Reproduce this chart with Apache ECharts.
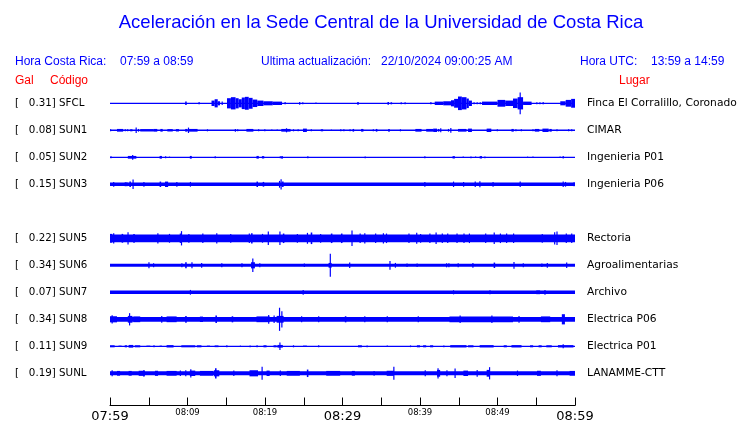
<!DOCTYPE html>
<html><head><meta charset="utf-8">
<script src="https://cdn.jsdelivr.net/npm/echarts@6/dist/echarts.min.js"></script>
<style>html,body{margin:0;padding:0;background:#fff}#c{width:740px;height:423px}</style>
</head><body><div id="c"></div>
<script>
// ---------------- DATA ----------------
const stations = ['SFCL','SUN1','SUN2','SUN3','SUN4','SUN5','SUN6','SUN7','SUN8','SUN9','SUNL'];
const peakGal  = ['0.31','0.08','0.05','0.15',null,'0.22','0.34','0.07','0.34','0.11','0.19'];
const places   = ['Finca El Corralillo, Coronado','CIMAR','Ingenieria P01','Ingenieria P06','',
                  'Rectoria','Agroalimentarias','Archivo','Electrica P06','Electrica P01','LANAMME-CTT'];
const timeTicks  = [0,10,20,30,40,50,60];
const timeLabels = ['07:59','08:09','08:19','08:29','08:39','08:49','08:59'];
const noiseLevels = [0.01,0.02,0.01,0.05,null,0.115,0.045,0.05,0.07,0.01,0.06];
const evSFCL = [[9.7,9.9,0.05],[11.4,11.6,0.03],[13.1,13.5,0.08],[13.5,13.9,0.12],[13.9,14.2,0.06],[14.4,14.5,0.05],
  [15.1,15.6,0.15],[15.6,16.2,0.18],[16.2,16.6,0.15],[16.6,17.0,0.12],[17.0,17.4,0.17],[17.4,17.9,0.19],[17.9,18.4,0.16],
  [18.4,19.0,0.11],[19.0,19.8,0.08],[19.8,21.0,0.06],[21.0,22.2,0.05],[22.5,22.7,0.03],[24.4,24.5,0.04],[24.8,24.9,0.03],
  [26.5,26.6,0.02],[31.9,32.1,0.04],[35.8,36.0,0.04],[36.2,36.4,0.03],[37.5,37.6,0.03],[38.0,38.1,0.03],[41.3,41.5,0.03],
  [41.9,43.0,0.05],[43.0,44.0,0.06],[44.0,44.4,0.09],[44.4,44.9,0.13],[44.9,45.4,0.2],[45.4,46.0,0.18],[46.0,46.3,0.14],
  [46.3,46.7,0.08],[46.9,47.0,0.03],[47.3,47.4,0.03],[47.7,47.8,0.03],[48.0,50.0,0.05],[50.0,51.0,0.1],[51.0,52.0,0.08],
  [52.0,52.6,0.14],[52.6,53.3,0.18],[52.85,52.95,0.32],[53.3,54.4,0.05],[55.0,55.1,0.03],[55.4,55.5,0.03],[55.8,56.0,0.03],
  [58.1,58.8,0.06],[58.8,59.5,0.1],[59.5,60,0.13]];
const evSUN1 = [[0.0,0.1,0.03],[0.9,1.7,0.04],[1.9,2.0,0.03],[2.2,2.3,0.03],[2.6,2.9,0.03],[3.3,3.4,0.08],[3.6,3.7,0.04],
  [3.9,5.6,0.035],[5.6,6.1,0.04],[6.5,6.8,0.04],[7.4,8.1,0.035],[8.5,8.9,0.035],[9.7,10.0,0.04],[10.05,10.15,0.08],
  [10.2,11.3,0.04],[12.5,12.6,0.03],[16.1,16.2,0.04],[16.4,16.5,0.03],[17.6,18.5,0.04],[19.1,19.2,0.03],[19.9,20.0,0.03],
  [20.8,20.9,0.02],[21.5,21.6,0.02],[22.1,23.3,0.04],[22.7,22.8,0.06],[23.6,23.7,0.03],[24.2,24.3,0.03],[24.9,25.4,0.05],
  [25.9,26.0,0.03],[27.2,27.5,0.03],[28.5,28.6,0.02],[29.7,29.8,0.03],[30.1,30.2,0.03],[30.9,31.0,0.03],[31.3,31.5,0.04],
  [32.4,32.7,0.04],[33.9,34.0,0.03],[34.3,34.5,0.04],[35.9,36.1,0.04],[37.4,37.5,0.03],[39.4,40.2,0.04],[40.8,41.7,0.04],
  [41.7,42.2,0.05],[42.3,42.5,0.04],[42.6,42.7,0.06],[43.6,43.7,0.04],[43.9,44.0,0.07],[44.9,46.0,0.04],[46.2,46.7,0.05],
  [48.6,49.2,0.05],[49.9,50.0,0.03],[51.8,52.1,0.04],[52.3,52.4,0.03],[53.0,53.1,0.03],[54.5,54.6,0.03],[54.8,55.4,0.04],
  [55.8,56.6,0.05],[56.7,57.0,0.04],[57.6,57.7,0.03],[59.1,59.2,0.03],[59.5,59.6,0.03]];
const evSUN2 = [[0.05,0.15,0.03],[2.3,3.4,0.04],[2.85,2.95,0.07],[6.4,6.7,0.04],[7.1,7.2,0.03],[7.6,7.7,0.02],
  [10.3,10.55,0.04],[13.5,13.6,0.03],[18.9,19.2,0.04],[19.6,19.9,0.035],[21.9,22.0,0.03],[22.1,22.3,0.04],[25.45,25.55,0.03],
  [32.85,32.95,0.025],[40.55,40.65,0.03],[44.2,44.5,0.035],[45.5,45.6,0.02],[46.5,46.6,0.025],[47.1,47.2,0.02],
  [47.7,48.0,0.035],[48.3,48.4,0.025],[53.8,53.9,0.02],[54.5,54.6,0.02],[58.0,58.1,0.02],[58.4,58.55,0.035]];
const evSUN3 = [[0.4,0.5,0.07],[1.9,2.0,0.06],[2.1,2.2,0.06],[2.5,2.7,0.08],[2.9,3.0,0.14],[4.3,4.4,0.07],[6.4,6.6,0.08],
  [7.1,7.5,0.08],[8.55,8.65,0.07],[10.3,10.4,0.07],[18.9,19.1,0.08],[19.7,19.9,0.07],[21.8,21.95,0.1],[22.0,22.15,0.15],
  [22.2,22.4,0.08],[40.55,40.65,0.07],[44.25,44.35,0.08],[45.55,45.65,0.07],[47.05,47.2,0.08],[47.65,47.75,0.09],
  [49.35,49.45,0.07],[52.85,52.95,0.08],[58.4,58.55,0.08],[58.7,58.8,0.07],[59.8,59.9,0.06]];
const evSUN4 = [];
const evSUN5 = [[0.0,0.3,0.13],[0.4,0.5,0.15],[1.5,1.7,0.13],[2.25,2.35,0.18],[3.0,3.2,0.13],[6.1,6.2,0.15],[7.6,7.7,0.13],
  [9.0,9.1,0.14],[9.15,9.25,0.21],[10.1,10.2,0.13],[11.9,12.0,0.14],[13.7,13.8,0.15],[15.5,15.6,0.13],[17.9,18.0,0.14],
  [18.2,18.4,0.15],[19.6,19.7,0.13],[20.35,20.45,0.2],[21.85,21.95,0.2],[22.3,22.5,0.14],[24.1,24.2,0.13],[25.4,25.5,0.16],
  [25.9,26.1,0.17],[27.1,27.2,0.13],[28.5,28.7,0.14],[29.8,30.0,0.14],[31.15,31.3,0.23],[32.2,32.3,0.14],[32.8,32.9,0.15],
  [34.2,34.3,0.14],[35.2,35.3,0.15],[35.6,35.7,0.14],[38.5,38.6,0.14],[39.5,39.6,0.16],[40.0,40.1,0.13],[41.2,41.3,0.14],
  [42.0,42.1,0.17],[42.8,42.9,0.14],[43.5,43.6,0.14],[44.7,44.8,0.14],[45.6,45.7,0.14],[46.3,46.4,0.14],[48.4,48.5,0.14],
  [49.5,49.6,0.17],[50.3,50.4,0.14],[51.1,51.2,0.14],[52.0,52.1,0.14],[55.7,55.8,0.13],[57.3,57.4,0.18],[57.6,57.7,0.2],
  [58.8,58.9,0.14],[59.5,59.6,0.14]];
const evSUN6 = [[4.95,5.05,0.09],[5.55,5.65,0.06],[9.2,9.3,0.06],[9.7,9.9,0.09],[10.5,10.6,0.09],[11.75,11.85,0.07],
  [14.35,14.45,0.06],[16.95,17.05,0.06],[18.2,18.7,0.09],[18.35,18.45,0.2],[19.25,19.35,0.06],[25.0,25.1,0.05],
  [28.2,28.6,0.07],[28.35,28.45,0.34],[30.85,30.95,0.08],[36.05,36.15,0.13],[36.75,36.9,0.07],[38.25,38.35,0.05],
  [39.55,39.65,0.05],[43.35,43.45,0.06],[43.65,43.75,0.06],[44.85,44.95,0.06],[46.75,46.85,0.07],[49.5,49.7,0.08],
  [52.05,52.2,0.1],[53.25,53.35,0.06],[55.65,55.75,0.05],[56.35,56.5,0.07],[58.85,58.95,0.08]];
const evSUN7 = [[10.3,10.4,0.07],[24.85,24.95,0.07],[44.25,44.35,0.06],[48.95,49.05,0.06],[55.0,55.5,0.055],[56.05,56.15,0.07]];
const evSUN8 = [[0,0.9,0.09],[0.2,0.3,0.12],[2.3,2.9,0.1],[2.45,2.55,0.18],[3.0,3.9,0.085],[6.6,6.7,0.1],[7.3,8.6,0.085],
  [9.7,9.9,0.1],[11.6,12.0,0.08],[13.6,13.8,0.11],[15.7,15.9,0.09],[18.9,20.6,0.085],[20.4,20.5,0.13],[21.1,21.2,0.11],
  [21.5,22.4,0.1],[21.8,21.9,0.34],[22.1,22.2,0.24],[24.65,24.75,0.09],[26.85,26.95,0.09],[30.3,30.5,0.09],
  [32.8,32.9,0.09],[35.7,35.8,0.09],[39.7,39.8,0.09],[43.8,52,0.085],[45.1,45.2,0.11],[49.2,49.3,0.11],[52.7,52.8,0.1],
  [55.6,56.8,0.085],[58.3,58.7,0.15]];
const evSUN9 = [[0,0.6,0.03],[1.1,1.5,0.02],[1.9,2.2,0.03],[2.4,3.0,0.04],[3.2,3.9,0.03],[4.7,5.2,0.02],[5.6,5.7,0.03],
  [6.4,6.7,0.02],[7.3,8.2,0.035],[9.2,11.0,0.03],[11.2,11.8,0.03],[12.5,12.9,0.02],[13.5,14.0,0.025],[15.0,15.1,0.03],
  [16.75,16.85,0.02],[18.0,18.1,0.025],[18.9,19.0,0.03],[19.8,20.2,0.03],[21.1,21.5,0.03],[21.6,22.3,0.04],
  [21.85,21.95,0.11],[23.6,23.7,0.03],[24.9,25.4,0.02],[26.85,26.95,0.03],[32.0,32.5,0.03],[33.1,33.2,0.025],
  [35.7,35.8,0.02],[38.7,38.8,0.025],[39.6,40.0,0.03],[40.4,40.8,0.03],[41.3,41.7,0.03],[43.0,43.1,0.025],
  [43.9,46.0,0.035],[46.2,46.9,0.03],[47.7,49.5,0.035],[50.8,51.2,0.03],[51.8,53.1,0.035],[54.2,54.6,0.03],
  [55.3,55.7,0.03],[56.3,57.0,0.03],[57.8,59.8,0.035],[58.4,58.5,0.06]];
const evSUNL = [[0.2,0.3,0.09],[0.9,1.3,0.07],[2.4,2.8,0.07],[3.7,4.5,0.075],[4.3,4.4,0.1],[5.8,6.2,0.075],[7.3,8.6,0.07],
  [9.0,9.1,0.08],[9.7,9.8,0.09],[10.3,11.0,0.08],[10.35,10.45,0.12],[11.6,13.3,0.07],[13.4,14.1,0.09],[13.55,13.75,0.15],
  [15.9,16.0,0.08],[18.0,19.1,0.09],[19.55,19.65,0.19],[20.2,20.6,0.08],[21.9,22.0,0.08],[22.8,24.5,0.07],[25.4,25.6,0.11],
  [27.9,29.7,0.07],[31.2,31.6,0.07],[34.0,34.1,0.07],[35.7,36.6,0.075],[36.55,36.65,0.19],[40.6,40.7,0.09],[42.2,42.6,0.1],
  [42.25,42.35,0.15],[43.4,43.5,0.09],[44.45,44.55,0.14],[45.6,46.2,0.08],[47.3,47.4,0.1],[48.6,49.0,0.1],
  [48.9,49.0,0.18],[52.5,52.6,0.08],[55.1,55.6,0.075],[57.6,57.7,0.09],[59.3,60,0.07]];
const eventLists = [evSFCL,evSUN1,evSUN2,evSUN3,evSUN4,evSUN5,evSUN6,evSUN7,evSUN8,evSUN9,evSUNL];

// ---------------- STYLE ----------------
const BLUE = '#0000ff';
const ROW_PX = 27.0;             // vertical spacing between traces
const GAIN = 34 / ROW_PX;        // trace-spacing units per Gal
const Y_MIN = -1, Y_MAX = 11.3;
const topPx = 103.3 - ROW_PX;                 // value -1
const botPx = topPx + (Y_MAX - Y_MIN) * ROW_PX; // value Y_MAX

const rows = [];
noiseLevels.forEach((n, k) => { if (n !== null) rows.push([0, 60, n, k]); });
eventLists.forEach((list, k) => list.forEach(e => rows.push([e[0], e[1], e[2], k])));

function renderItem(params, api) {
  const t0 = api.value(0), t1 = api.value(1), amp = api.value(2), k = api.value(3);
  const p0 = api.coord([t0, k]);
  const p1 = api.coord([t1, k]);
  const pa = api.coord([t0, k - amp * GAIN]);
  const h = Math.max(Math.abs(p0[1] - pa[1]), 0.6);
  const w = Math.max(p1[0] - p0[0], 1.2);
  return { type: 'rect', shape: { x: p0[0], y: p0[1] - h, width: w, height: 2 * h },
           style: { fill: BLUE } };
}

const chart = echarts.init(document.getElementById('c'), null, { renderer: 'canvas' });
const hdr = { fontFamily: 'Liberation Sans, Arial, sans-serif', fontSize: 12, fill: BLUE };
const red = { fontFamily: 'Liberation Sans, Arial, sans-serif', fontSize: 12, fill: '#ff0000' };
function txt(x, y, text, st, align) {
  return { type: 'text', x: x, y: y, style: Object.assign({ text: text, align: align || 'left', verticalAlign: 'middle' }, st) };
}
const rowIdx = v => { const k = Math.round(v); return Math.abs(v - k) < 1e-6 && k >= 0 && k < stations.length ? k : -1; };

chart.setOption({
  animation: false,
  backgroundColor: '#fff',
  grid: [
    { left: 110, right: 165, top: topPx, bottom: 423 - botPx, containLabel: false },
    { left: 110, right: 165, top: 300, bottom: 14.5, containLabel: false }
  ],
  xAxis: [
    { gridIndex: 0, type: 'value', min: 0, max: 60, show: false },
    { gridIndex: 1, type: 'value', min: 0, max: 60, interval: 5, position: 'bottom',
      axisLine: { onZero: false, lineStyle: { color: '#000', width: 1 } },
      axisTick: { inside: true, length: 8, lineStyle: { color: '#000' } },
      splitLine: { show: false },
      axisLabel: {
        margin: 3, hideOverlap: false, showMinLabel: true, showMaxLabel: true,
        formatter: v => {
          const i = timeTicks.indexOf(v);
          if (i < 0) return '';
          return v % 30 === 0 ? '{b|' + timeLabels[i] + '}' : '{s|' + timeLabels[i] + '}';
        },
        rich: {
          b: { fontFamily: 'DejaVu Sans', fontSize: 13, color: '#000', lineHeight: 16 },
          s: { fontFamily: 'DejaVu Sans', fontSize: 8.5, color: '#000', lineHeight: 8.5 }
        }
      } }
  ],
  yAxis: [
    { gridIndex: 0, type: 'value', inverse: true, min: Y_MIN, max: Y_MAX, interval: 1, position: 'left',
      axisLine: { show: false, onZero: false }, axisTick: { show: false }, splitLine: { show: false },
      axisLabel: { align: 'left', margin: 95, color: '#000', fontFamily: 'DejaVu Sans', fontSize: 10.3,
        showMinLabel: false, showMaxLabel: false, padding: [2, 0, 0, 0],
        formatter: v => { const k = rowIdx(v); return k >= 0 && peakGal[k] ? '[   ' + peakGal[k] + '] ' + stations[k] : ''; } } },
    { gridIndex: 0, type: 'value', inverse: true, min: Y_MIN, max: Y_MAX, interval: 1, position: 'right',
      axisLine: { show: false, onZero: false }, axisTick: { show: false }, splitLine: { show: false },
      axisLabel: { align: 'left', margin: 12, color: '#000', fontFamily: 'DejaVu Sans', fontSize: 10.7,
        showMinLabel: false, showMaxLabel: false, padding: [2, 0, 0, 0],
        formatter: v => { const k = rowIdx(v); return k >= 0 ? places[k] : ''; } } },
    { gridIndex: 1, type: 'value', min: 0, max: 1, show: false }
  ],
  series: [{
    type: 'custom', xAxisIndex: 0, yAxisIndex: 0, renderItem: renderItem, data: rows,
    encode: { x: [0, 1], y: 3 }, silent: true, clip: false
  }],
  graphic: [
    txt(381, 23, 'Aceleración en la Sede Central de la Universidad de Costa Rica',
        { fontFamily: 'Liberation Sans, Arial, sans-serif', fontSize: 18.5, fill: BLUE }, 'center'),
    txt(15, 61.5, 'Hora Costa Rica:', hdr),
    txt(120, 61.5, timeLabels[0] + ' a ' + timeLabels[6], hdr),
    txt(261, 61.5, 'Ultima actualización:', hdr),
    txt(381, 61.5, '22/10/2024 09:00:25 AM', hdr),
    txt(580, 61.5, 'Hora UTC:', hdr),
    txt(651, 61.5, '13:59 a 14:59', hdr),
    txt(15, 80.5, 'Gal', red),
    txt(50, 80.5, 'Código', red),
    txt(619, 80.5, 'Lugar', red)
  ]
});
</script></body></html>
